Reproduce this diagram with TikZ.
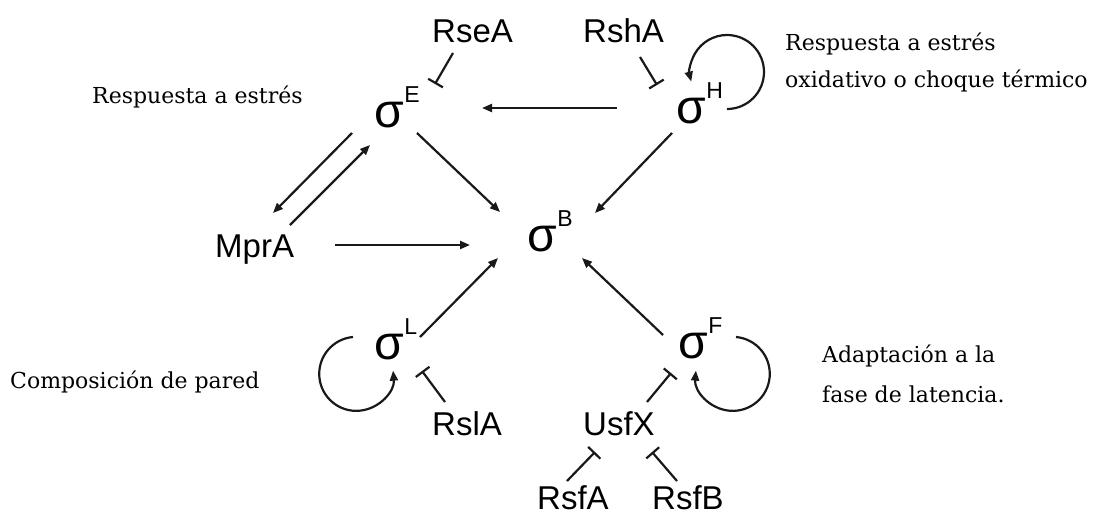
\documentclass[tikz,border=0pt]{standalone}
\usepackage{fontspec}
\setmainfont{DejaVu Serif}
\newfontfamily\arialf{Liberation Sans}
\usetikzlibrary{arrows.meta}
\newcommand{\sgm}[1]{{\fontsize{48}{48}\selectfont σ}\kern0.5pt\raisebox{25pt}{\fontsize{23}{23}\selectfont #1}}
\begin{document}
\begin{tikzpicture}[x=1pt,y=-1pt,
  lab/.style={font=\arialf\fontsize{33}{33}\selectfont, inner sep=0pt, anchor=base west},
  sig/.style={font=\arialf, inner sep=0pt, anchor=base west},
  note/.style={font=\fontsize{22}{22}\selectfont, inner sep=0pt, anchor=base west},
  act/.style={line width=2.2pt, draw=black!90, -{Triangle[length=10pt,width=8pt]}},
  inh/.style={line width=2.2pt, draw=black!90, -{Bar[width=17pt]}}]
\useasboundingbox (0,0) rectangle (1102,517);
% sigma factors
\node[sig] (sE) at (374,127) {\sgm{E}};
\node[sig] (sH) at (676,123) {\sgm{H}};
\node[sig] (sB) at (527,251) {\sgm{B}};
\node[sig] (sL) at (374,359) {\sgm{L}};
\node[sig] (sF) at (678,358) {\sgm{F}};
% proteins
\node[lab] (rse) at (432,42) {RseA};
\node[lab] (rsh) at (583,42) {RshA};
\node[lab] (mpr) at (215,257) {MprA};
\node[lab] (rsl) at (432,435) {RslA};
\node[lab] (usf) at (583,435) {UsfX};
\node[lab] (rsfa) at (537,509) {RsfA};
\node[lab] (rsfb) at (652,509) {RsfB};
% notes
\node[note] (n1) at (92,103) {Respuesta a estrés};
\node[note] (n2a) at (785,50) {Respuesta a estrés};
\node[note] (n2b) at (785,87) {oxidativo o choque térmico};
\node[note] (n3) at (10,388) {Composición de pared};
\node[note] (n4a) at (822,362) {Adaptación a la};
\node[note] (n4b) at (822,402) {fase de latencia.};
% activations
\draw[act] ([shift={(-59,-15)}]sH.base west) -- ([shift={(108,-19)}]sE.base west);
\draw[act] ([shift={(43,6)}]sE.base west) -- ([shift={(-27,-39)}]sB.base west);
\draw[act] ([shift={(-4,10)}]sH.base west) -- ([shift={(68,-38)}]sB.base west);
\draw[act] ([shift={(120,-12)}]mpr.base west) -- ([shift={(-57,-6)}]sB.base west);
\draw[act] ([shift={(46,-22)}]sL.base west) -- ([shift={(-29,7)}]sB.base west);
\draw[act] ([shift={(-15,-23)}]sF.base west) -- ([shift={(55,7)}]sB.base west);
\draw[act] ([shift={(-22,6)}]sE.base west) -- ([shift={(58,-44)}]mpr.base west);
\draw[act] ([shift={(75,-32)}]mpr.base west) -- ([shift={(-4,18)}]sE.base west);
% inhibitions
\draw[inh] ([shift={(21,11)}]rse.base west) -- ([shift={(61,-43)}]sE.base west);
\draw[inh] ([shift={(57,15)}]rsh.base west) -- ([shift={(-19,-38)}]sH.base west);
\draw[inh] ([shift={(13,-33)}]rsl.base west) -- ([shift={(48,12)}]sL.base west);
\draw[inh] ([shift={(64,-33)}]usf.base west) -- ([shift={(-7,15)}]sF.base west);
\draw[inh] ([shift={(30,-28)}]rsfa.base west) -- ([shift={(12,17)}]usf.base west);
\draw[inh] ([shift={(25,-28)}]rsfb.base west) -- ([shift={(69,17)}]usf.base west);
% self loops
\draw[act] ([shift={(51,-14)}]sH.base west) arc[start angle=90, end angle=-195, radius=37];
\draw[act] ([shift={(-21,-22)}]sL.base west) arc[start angle=-95, end angle=-365, radius=37];
\draw[act] ([shift={(58,-21)}]sF.base west) arc[start angle=-85, end angle=185, radius=37];
\end{tikzpicture}
\end{document}
